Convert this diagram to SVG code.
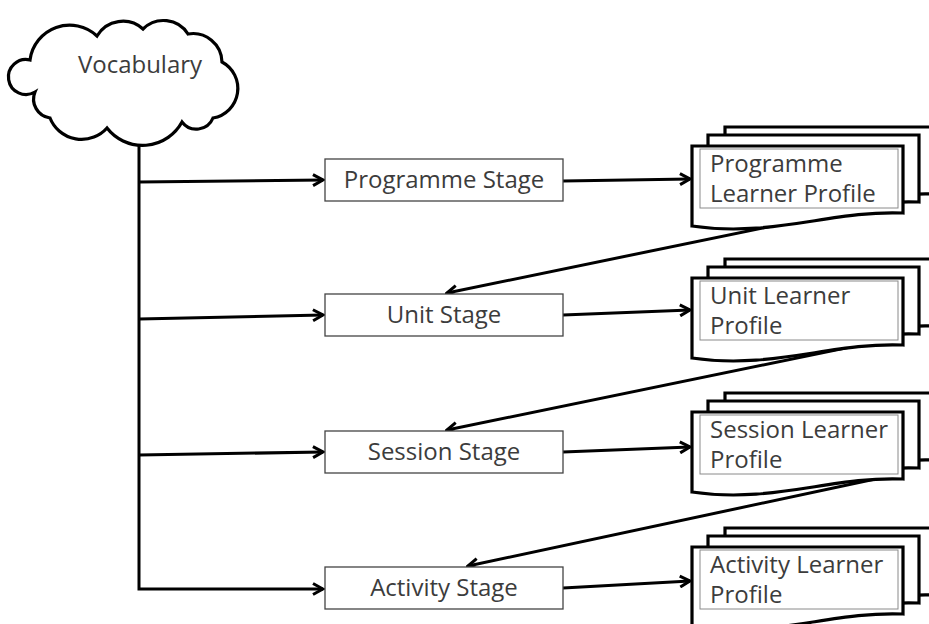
<svg xmlns="http://www.w3.org/2000/svg" xmlns:xlink="http://www.w3.org/1999/xlink" width="929" height="624" viewBox="0 0 929 624">
<style>
.conn{fill:none;stroke:#000;stroke-width:3;marker-end:url(#arr)}
.box{fill:#fff;stroke:#444;stroke-width:1.3}
.doc{fill:#fff;stroke:#000;stroke-width:3.2;stroke-linejoin:miter}
.inner{fill:none;stroke:#8a8a8a;stroke-width:1}
.t{font-family:"Open Sans","Noto Sans",sans-serif;font-size:24px;fill:#3c3c3c}
.c{text-anchor:middle}
</style>
<defs>
<marker id="arr" viewBox="0 0 14 14" refX="12" refY="7" markerWidth="14" markerHeight="14" markerUnits="userSpaceOnUse" orient="auto">
<path d="M2,1.5 L12,7 L2,12.5" fill="none" stroke="#000" stroke-width="3"/>
</marker>
<path id="docshape" d="M0,0 H211 V67 C140,64 80,92 0,80 Z"/>
</defs>
<rect width="929" height="624" fill="#fff"/>
<g id="connectors">
<path class="conn" d="M139,145 V589 H323"/>
<path class="conn" d="M139,182 L323,180"/>
<path class="conn" d="M139,319 L323,315"/>
<path class="conn" d="M139,455 L323,452"/>
<path class="conn" d="M563,181 L690,179"/>
<path class="conn" d="M563,315 L690,310"/>
<path class="conn" d="M563,452 L690,447"/>
<path class="conn" d="M563,588 L690,581"/>
<path class="conn" d="M850,210 L447,293"/>
<path class="conn" d="M860,345 L447,430"/>
<path class="conn" d="M880,478 L468,566"/>
</g>
<g id="vocabulary">
<path class="doc" d="M30,60 A40,40 0 0 1 97,36 A30,30 0 0 1 143,29 A29,29 0 0 1 188,34 A29,29 0 0 1 222,62 A30,30 0 0 1 213,118 A18,18 0 0 1 182,122 A45,45 0 0 1 107,128 A34,34 0 0 1 50,118 A19,19 0 0 1 35,92 A17.5,17.5 0 1 1 30,60 Z"/>
<text class="t" x="140" y="73" text-anchor="middle">Vocabulary</text>
</g>
<g id="programme-stage">
<rect class="box" x="325" y="159" width="238" height="42"/>
<text class="t c" x="444" y="188">Programme Stage</text>
</g>
<g id="unit-stage">
<rect class="box" x="325" y="294" width="238" height="42"/>
<text class="t c" x="444" y="323">Unit Stage</text>
</g>
<g id="session-stage">
<rect class="box" x="325" y="431" width="238" height="42"/>
<text class="t c" x="444" y="460">Session Stage</text>
</g>
<g id="activity-stage">
<rect class="box" x="325" y="567" width="238" height="42"/>
<text class="t c" x="444" y="596">Activity Stage</text>
</g>
<g id="programme-profile" transform="translate(0,146)">
<use href="#docshape" class="doc" x="725" y="-19"/>
<use href="#docshape" class="doc" x="708" y="-11"/>
<use href="#docshape" class="doc" x="692" y="0"/>
<rect class="inner" x="700" y="3" width="198" height="59"/>
<text class="t" x="710" y="26">Programme</text>
<text class="t" x="710" y="56">Learner Profile</text>
</g>
<g id="unit-profile" transform="translate(0,278)">
<use href="#docshape" class="doc" x="725" y="-19"/>
<use href="#docshape" class="doc" x="708" y="-11"/>
<use href="#docshape" class="doc" x="692" y="0"/>
<rect class="inner" x="700" y="3" width="198" height="59"/>
<text class="t" x="710" y="26">Unit Learner</text>
<text class="t" x="710" y="56">Profile</text>
</g>
<g id="session-profile" transform="translate(0,412)">
<use href="#docshape" class="doc" x="725" y="-19"/>
<use href="#docshape" class="doc" x="708" y="-11"/>
<use href="#docshape" class="doc" x="692" y="0"/>
<rect class="inner" x="700" y="3" width="198" height="59"/>
<text class="t" x="710" y="26">Session Learner</text>
<text class="t" x="710" y="56">Profile</text>
</g>
<g id="activity-profile" transform="translate(0,547)">
<use href="#docshape" class="doc" x="725" y="-19"/>
<use href="#docshape" class="doc" x="708" y="-11"/>
<use href="#docshape" class="doc" x="692" y="0"/>
<rect class="inner" x="700" y="3" width="198" height="59"/>
<text class="t" x="710" y="26">Activity Learner</text>
<text class="t" x="710" y="56">Profile</text>
</g>
</svg>
